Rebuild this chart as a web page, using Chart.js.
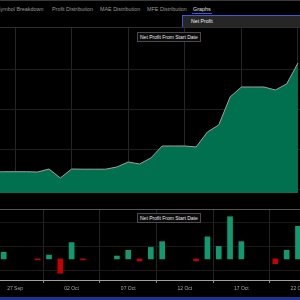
<!DOCTYPE html>
<html><head><meta charset="utf-8">
<script src="https://cdn.jsdelivr.net/npm/chart.js@4.4.1/dist/chart.umd.min.js"></script>
<style>
html,body{margin:0;padding:0;background:#000;width:300px;height:300px;overflow:hidden;font-family:"Liberation Sans",Arial,sans-serif;}
.abs{position:absolute;white-space:nowrap;}
.tab{top:6px;font-size:5.4px;color:#9a9a9a;}
.box{font-size:5px;color:#e8e8e8;background:#0a0a0a;border:1px solid #4a4a4a;padding:1px 2px;line-height:6px;}
</style></head>
<body>
<div class="abs" style="left:0;top:0;width:300px;height:1px;background:#3a3a3a"></div>
<div class="abs tab" style="left:-3px">Symbol Breakdown</div>
<div class="abs tab" style="left:52px">Profit Distribution</div>
<div class="abs tab" style="left:100px">MAE Distribution</div>
<div class="abs tab" style="left:147px">MFE Distribution</div>
<div class="abs tab" style="left:193px;color:#e0e0e0">Graphs</div>
<div class="abs" style="left:192px;top:13px;width:20px;height:1px;background:#3a5bd9"></div>
<div class="abs" style="left:182px;top:15px;width:120px;height:11px;background:#262626;border:1px solid #3a5bd9"></div>
<div class="abs" style="left:191px;top:18px;font-size:5.2px;color:#f0f0f0">Net Profit</div>
<div class="abs" style="left:0;top:27px;width:300px;height:1px;background:#2e2e2e"></div>

<canvas id="up" class="abs" width="300" height="165" style="left:0;top:28px"></canvas>
<div class="abs" style="left:0;top:209px;width:300px;height:1px;background:#555"></div>
<canvas id="down" class="abs" width="300" height="85" style="left:0;top:210px"></canvas>
<div class="abs box" style="left:137px;top:32px">Net Profit From Start Date</div>
<div class="abs box" style="left:137px;top:213px">Net Profit From Start Date</div>
<div class="abs" style="left:0;top:297px;width:300px;height:3px;background:#1c3590"></div>

<script>
// day labels (x index = position in this list minus 2, so "27 Sep" is 0)
const days = ["25 Sep","26 Sep","27 Sep","28 Sep","29 Sep","30 Sep","01 Oct","02 Oct","03 Oct","04 Oct","05 Oct","06 Oct","07 Oct","08 Oct","09 Oct","10 Oct","11 Oct","12 Oct","13 Oct","14 Oct","15 Oct","16 Oct","17 Oct","18 Oct","19 Oct","20 Oct","21 Oct","22 Oct"];
// cumulative net profit (upper panel)
const netProfit = [420,432,432,432,425,500,275,500,495,495,495,550,675,625,775,1075,1075,1075,1050,1425,1600,2300,2550,2550,2550,2475,2625,3150];
// daily net profit (lower panel), null = no trades
const dailyProfit = [null,112,null,null,-16,64,-240,272,-16,null,null,48,144,-32,192,288,null,null,-32,368,208,704,288,null,null,-80,144,544];
const tickLabels = ["27 Sep","02 Oct","07 Oct","12 Oct","17 Oct","22 Oct"];
const firstDay = -2;

const tickVals = tickLabels.map((_, i) => i * 5);
const upPts = days.map((d, i) => ({x: i + firstDay, y: netProfit[i]}));
const downPts = days.map((d, i) => ({x: i + firstDay, y: dailyProfit[i]})).filter(p => p.y !== null);
const xMin = -1.33, xMax = 25.18;

new Chart(document.getElementById('up'), {
  type: 'line',
  data: {datasets: [{data: upPts, fill: 'start', backgroundColor: '#00704f', borderColor: '#a0a0a0', borderWidth: 1, pointRadius: 0, tension: 0}]},
  options: {
    responsive: false, animation: false, events: [],
    plugins: {legend: {display: false}, tooltip: {enabled: false}},
    layout: {padding: 0},
    scales: {
      x: {type: 'linear', min: xMin, max: xMax,
          afterBuildTicks: s => { s.ticks = tickVals.map(v => ({value: v})); },
          ticks: {display: false}, grid: {color: '#262626', drawTicks: false},
          border: {display: true, color: '#a8a8a8'}},
      y: {min: -100, max: 4025,
          afterBuildTicks: s => { s.ticks = [0,1000,2000,3000].map(v => ({value: v})); },
          ticks: {display: false}, grid: {color: '#1f1f1f', drawTicks: false},
          border: {display: false}}
    }
  }
});

new Chart(document.getElementById('down'), {
  type: 'bar',
  data: {datasets: [{data: downPts, barThickness: 5,
    backgroundColor: downPts.map(p => p.y >= 0 ? '#109a70' : '#c40000')}]},
  options: {
    responsive: false, animation: false, events: [],
    plugins: {legend: {display: false}, tooltip: {enabled: false}},
    layout: {padding: 0},
    scales: {
      x: {type: 'linear', min: xMin, max: xMax, offset: false,
          afterBuildTicks: s => { s.ticks = tickVals.map(v => ({value: v})); },
          afterFit: s => { s.paddingLeft = 0; s.paddingRight = 0; },
          ticks: {color: '#a8a8a8', font: {size: 5, family: 'Liberation Sans'}, padding: 3, maxRotation: 0, autoSkip: false,
                  callback: (v) => tickLabels[tickVals.indexOf(v)] ?? ''},
          grid: {color: '#222', tickColor: '#888', tickLength: 3},
          border: {display: true, color: '#a0a0a0'}},
      y: {min: -352, max: 816,
          afterBuildTicks: s => { s.ticks = [-200,200,600].map(v => ({value: v})); },
          ticks: {display: false}, grid: {color: '#1a1a1a', drawTicks: false},
          border: {display: false}}
    }
  }
});
</script>
</body></html>
